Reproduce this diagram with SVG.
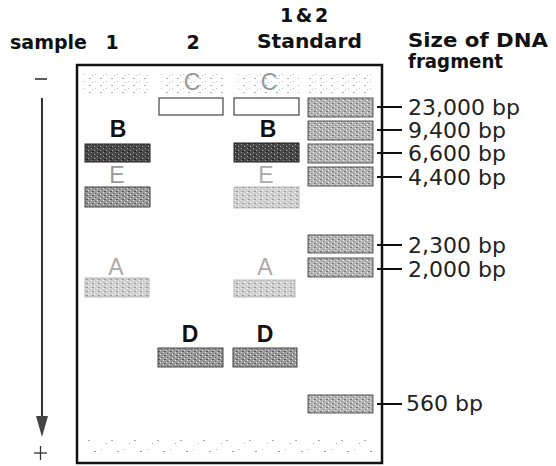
<svg xmlns="http://www.w3.org/2000/svg" width="556" height="466" viewBox="0 0 556 466">
<style>
.hd{font-family:"DejaVu Sans",sans-serif;font-weight:bold;font-size:19px;fill:#111}
.lbl{font-family:"DejaVu Sans",sans-serif;font-size:22px;fill:#222}
.lt{font-family:"Liberation Sans",Arial,sans-serif;font-size:23px;text-anchor:middle}
.bold{font-weight:bold;fill:#111}
.edge{fill:none;stroke:#111;stroke-width:2.5}
.tick{stroke:#111;stroke-width:2}
.dark{fill:url(#pDark);stroke:#222;stroke-width:1}
.mid{fill:url(#pMid);stroke:#444;stroke-width:1}
.std{fill:url(#pStd);stroke:#555;stroke-width:1}
.light{fill:url(#pLight);stroke:#aaa;stroke-width:0.8}
.empty{fill:#fff;stroke:#444;stroke-width:1.2}
.well{fill:url(#pWell)}
.spk{fill:url(#pSparse)}
</style>
<defs>
<pattern id="pDark" width="6" height="4" patternUnits="userSpaceOnUse">
<rect width="6" height="4" fill="#4a4a4a"/><rect x="1" y="0" width="1" height="1" fill="#999"/><rect x="4" y="2" width="1" height="1" fill="#aaa"/><rect x="2" y="3" width="2" height="1" fill="#222"/>
</pattern>
<pattern id="pMid" width="6" height="4" patternUnits="userSpaceOnUse">
<rect width="6" height="4" fill="#9a9a9a"/><rect x="1" y="0" width="1" height="1" fill="#e0e0e0"/><rect x="4" y="2" width="1" height="1" fill="#eee"/><rect x="2" y="3" width="2" height="1" fill="#5a5a5a"/><rect x="5" y="1" width="1" height="1" fill="#666"/>
</pattern>
<pattern id="pStd" width="6" height="4" patternUnits="userSpaceOnUse">
<rect width="6" height="4" fill="#b4b4b4"/><rect x="1" y="0" width="1" height="1" fill="#eee"/><rect x="4" y="2" width="1" height="1" fill="#f4f4f4"/><rect x="2" y="3" width="2" height="1" fill="#7a7a7a"/><rect x="5" y="1" width="1" height="1" fill="#888"/>
</pattern>
<pattern id="pLight" width="6" height="4" patternUnits="userSpaceOnUse">
<rect width="6" height="4" fill="#d0d0d0"/><rect x="1" y="0" width="1" height="1" fill="#f4f4f4"/><rect x="4" y="2" width="1" height="1" fill="#fff"/><rect x="2" y="3" width="2" height="1" fill="#999"/>
</pattern>
<pattern id="pWell" width="11" height="7" patternUnits="userSpaceOnUse">
<rect x="1" y="1" width="2" height="1" fill="#b0b0b0"/><rect x="7" y="4" width="1" height="1" fill="#c0c0c0"/><rect x="4" y="5" width="1" height="1" fill="#bbb"/>
</pattern>
<pattern id="pSparse" width="23" height="14" patternUnits="userSpaceOnUse">
<rect x="2" y="3" width="2" height="1" fill="#999"/><rect x="14" y="9" width="1" height="1" fill="#aaa"/><rect x="9" y="1" width="1" height="1" fill="#bbb"/><rect x="19" y="6" width="2" height="1" fill="#aaa"/>
</pattern>
</defs>

<g id="headers">
<text class="hd" x="10" y="49">sample</text>
<text class="hd" x="112" y="49" text-anchor="middle">1</text>
<text class="hd" x="193" y="49" text-anchor="middle">2</text>
<text class="hd" x="304" y="22" font-size="18" word-spacing="-4" text-anchor="middle">1 &amp; 2</text>
<text class="hd" x="257" y="48" textLength="105" lengthAdjust="spacingAndGlyphs">Standard</text>
<text class="hd" x="408" y="47" textLength="140" lengthAdjust="spacingAndGlyphs">Size of DNA</text>
<text class="hd" x="408" y="68" textLength="95" lengthAdjust="spacingAndGlyphs">fragment</text>
</g>

<g id="direction">
<line x1="35" y1="79" x2="47" y2="79" stroke="#222" stroke-width="1.5"/>
<line x1="42" y1="98" x2="42" y2="420" stroke="#333" stroke-width="2"/>
<polygon points="36,416 48,416 42,437" fill="#444"/>
<line x1="34" y1="453" x2="47" y2="453" stroke="#333" stroke-width="1.3"/>
<line x1="40.5" y1="446" x2="40.5" y2="460" stroke="#333" stroke-width="1.3"/>
</g>

<g id="gel">
<rect class="edge" x="77" y="65" width="305" height="398"/>
<g id="wells">
<rect class="well" x="83" y="74" width="65" height="19"/>
<rect class="well" x="161" y="74" width="62" height="19"/>
<rect class="well" x="236" y="74" width="63" height="19"/>
<rect class="well" x="309" y="74" width="64" height="19"/>
</g>
<rect class="spk" x="84" y="438" width="292" height="16"/>
</g>

<g id="lane1">
<text class="lt bold" x="118" y="137">B</text>
<rect class="dark" x="85" y="144" width="65" height="18"/>
<text class="lt" x="117" y="183" fill="#999">E</text>
<rect class="mid" x="85" y="187" width="65" height="20"/>
<text class="lt" x="116" y="275" fill="#aaa">A</text>
<rect class="light" x="85" y="278" width="64" height="19"/>
</g>

<g id="lane2">
<text class="lt" x="192" y="90" fill="#999">C</text>
<rect class="empty" x="159" y="98" width="64" height="17"/>
<text class="lt bold" x="190" y="342">D</text>
<rect class="mid" x="158" y="348" width="65" height="19"/>
</g>

<g id="lane3">
<text class="lt" x="269" y="90" fill="#999">C</text>
<rect class="empty" x="234" y="98" width="65" height="17"/>
<text class="lt bold" x="268" y="137">B</text>
<rect class="dark" x="234" y="143" width="65" height="19"/>
<text class="lt" x="266" y="183" fill="#aaa">E</text>
<rect class="light" x="234" y="187" width="65" height="21"/>
<text class="lt" x="265" y="275" fill="#aaa">A</text>
<rect class="light" x="234" y="280" width="61" height="17"/>
<text class="lt bold" x="265" y="342">D</text>
<rect class="mid" x="233" y="348" width="64" height="19"/>
</g>

<g id="standard">
<rect class="std" x="308" y="98" width="65" height="19"/>
<rect class="std" x="308" y="121" width="65" height="19"/>
<rect class="std" x="308" y="144" width="65" height="19"/>
<rect class="std" x="308" y="167" width="65" height="19"/>
<rect class="std" x="308" y="235" width="65" height="18"/>
<rect class="std" x="308" y="258" width="65" height="19"/>
<rect class="std" x="308" y="395" width="65" height="18"/>
</g>

<g id="connectors">
<line class="tick" x1="377" y1="107" x2="402" y2="107"/>
<line class="tick" x1="377" y1="130" x2="402" y2="130"/>
<line class="tick" x1="377" y1="153" x2="402" y2="153"/>
<line class="tick" x1="377" y1="177" x2="402" y2="177"/>
<line class="tick" x1="377" y1="245" x2="402" y2="245"/>
<line class="tick" x1="377" y1="269" x2="402" y2="269"/>
<line class="tick" x1="377" y1="404" x2="402" y2="404"/>
</g>

<g id="sizes">
<text class="lbl" x="408" y="115">23,000 bp</text>
<text class="lbl" x="408" y="138">9,400 bp</text>
<text class="lbl" x="408" y="161">6,600 bp</text>
<text class="lbl" x="408" y="185">4,400 bp</text>
<text class="lbl" x="408" y="253">2,300 bp</text>
<text class="lbl" x="408" y="277">2,000 bp</text>
<text class="lbl" x="406" y="411">560 bp</text>
</g>
</svg>
